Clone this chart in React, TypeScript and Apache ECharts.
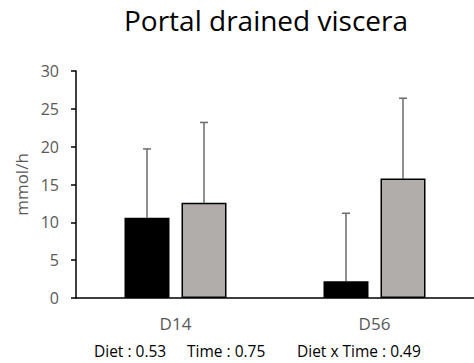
import React, { useEffect, useRef } from "react";
import * as echarts from "echarts";

const categories = ["D14", "D56"];
const dietAMeans = [10.6, 2.2];
const dietAErr = [9.1, 9.0];
const dietBMeans = [12.6, 15.8];
const dietBErr = [10.6, 10.6];
const yTicks = { min: 0, max: 30, interval: 5 };
const titleText = "Portal drained viscera";
const yAxisName = "mmol/h";
const statsTexts = ["Diet : 0.53", "Time : 0.75", "Diet x Time : 0.49"];

const FONT = "'Open Sans', sans-serif";
const BAR_W = 45;
const BAR_GAP = 12;

export default function App() {
  const ref = useRef<HTMLDivElement>(null);
  useEffect(() => {
    document.body.style.margin = "0";
    const chart = echarts.init(ref.current!, null, { renderer: "svg" });
    const offset = (BAR_W + BAR_GAP) / 2;
    const errSeries = (means: number[], errs: number[], dx: number) => ({
      type: "custom",
      z: 1,
      data: means.map((m, i) => [i, m, m + errs[i]]),
      renderItem: (params: any, api: any) => {
        const base = api.coord([api.value(0), api.value(1)]);
        const top = api.coord([api.value(0), api.value(2)]);
        const x = base[0] + dx;
        return {
          type: "group",
          children: [
            { type: "line", shape: { x1: x, y1: base[1], x2: x, y2: top[1] }, style: { stroke: "#6b6b6b", lineWidth: 1.5 } },
            { type: "line", shape: { x1: x - 4, y1: top[1], x2: x + 4, y2: top[1] }, style: { stroke: "#6b6b6b", lineWidth: 1.5 } },
          ],
        };
      },
    });
    const statStyle = { fontFamily: FONT, fontSize: 15.5, fill: "#000", verticalAlign: "middle" };
    chart.setOption({
      animation: false,
      title: {
        text: titleText,
        left: 261,
        textAlign: "center",
        top: 1,
        textStyle: { fontFamily: FONT, fontSize: 28, fontWeight: "normal", color: "#000" },
      },
      grid: { left: 76, right: -6, top: 71, bottom: 65 },
      xAxis: {
        type: "category",
        data: categories,
        axisLine: { lineStyle: { color: "#000", width: 1.5 } },
        axisTick: { show: false },
        axisLabel: { color: "#595959", fontSize: 17, fontFamily: FONT, margin: 17 },
      },
      yAxis: {
        type: "value",
        min: yTicks.min,
        max: yTicks.max,
        interval: yTicks.interval,
        name: yAxisName,
        nameLocation: "middle",
        nameGap: 46,
        nameTextStyle: { color: "#595959", fontSize: 17, fontFamily: FONT },
        axisLine: { show: true, lineStyle: { color: "#000", width: 1.5 } },
        axisTick: { show: true, length: 5, lineStyle: { color: "#000", width: 1.5 } },
        splitLine: { show: false },
        axisLabel: { color: "#595959", fontSize: 16, fontFamily: FONT, margin: 17 },
      },
      series: [
        {
          type: "bar",
          data: dietAMeans,
          barWidth: BAR_W,
          barGap: (BAR_GAP / BAR_W) * 100 + "%",
          itemStyle: { color: "#000", borderColor: "#000", borderWidth: 1.5 },
          z: 2,
        },
        {
          type: "bar",
          data: dietBMeans,
          barWidth: BAR_W,
          itemStyle: { color: "#b0adab", borderColor: "#000", borderWidth: 1.5 },
          z: 2,
        },
        errSeries(dietAMeans, dietAErr, -offset),
        errSeries(dietBMeans, dietBErr, offset),
      ],
      graphic: [
        { type: "text", x: 94, y: 351, style: { ...statStyle, text: statsTexts[0] } },
        { type: "text", x: 187, y: 351, style: { ...statStyle, text: statsTexts[1] } },
        { type: "text", x: 297, y: 351, style: { ...statStyle, text: statsTexts[2] } },
      ],
    });
    return () => chart.dispose();
  }, []);
  return <div ref={ref} style={{ width: 474, height: 363 }} />;
}
